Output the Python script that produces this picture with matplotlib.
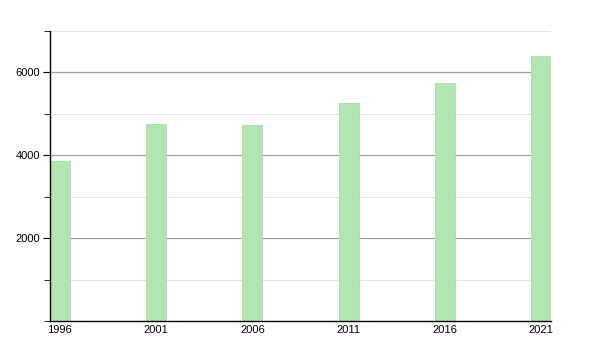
import matplotlib.pyplot as plt
from matplotlib.ticker import MultipleLocator

plt.rcParams['font.family'] = ['Liberation Sans', 'DejaVu Sans']

years = [1996, 2001, 2006, 2011, 2016, 2021]
population = [3860, 4750, 4720, 5250, 5750, 6385]

fig = plt.figure(figsize=(6, 3.5), dpi=100)
ax = fig.add_axes([50 / 600, 29 / 350, 501 / 600, 290 / 350])

ax.bar(years, population, width=1.05, color='#b3e5b1', edgecolor='#a8dea6',
       linewidth=0.6, zorder=3)

ax.set_xlim(1995.5, 2021.5)
ax.set_ylim(0, 7000)
ax.set_xticks(years)
ax.set_xticklabels([str(y) for y in years])
ax.yaxis.set_major_locator(MultipleLocator(2000))
ax.yaxis.set_minor_locator(MultipleLocator(1000))
ax.set_yticks([2000, 4000, 6000])

ax.grid(axis='y', which='major', color='#a0a0a0', linewidth=0.9, zorder=1)
ax.grid(axis='y', which='minor', color='#e3e3e3', linewidth=0.9, zorder=1)

for side in ['top', 'right']:
    ax.spines[side].set_visible(False)
for side in ['left', 'bottom']:
    ax.spines[side].set_linewidth(1.0)
    ax.spines[side].set_zorder(5)

ax.tick_params(axis='x', length=0, labelsize=8, pad=3)
ax.tick_params(axis='y', which='major', length=5, labelsize=8, pad=2)
ax.tick_params(axis='y', which='minor', length=4)

fig.savefig('out.png', dpi=100)
